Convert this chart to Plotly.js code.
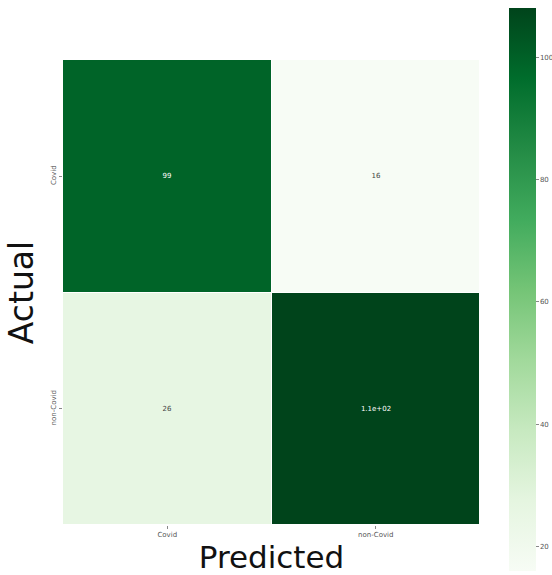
<!DOCTYPE html>
<html>
<head>
<meta charset="utf-8">
<script src="https://cdn.plot.ly/plotly-3.0.1.min.js"></script>
<style>html,body{margin:0;padding:0;background:#fff;}#chart{width:552px;height:575px;}</style>
</head>
<body>
<div id="chart"></div>
<script>
var predictedLabels = ['Covid', 'non-Covid'];
var actualLabels = ['Covid', 'non-Covid'];
var counts = [[99, 16], [26, 108]];
var cellText = [['99', '16'], ['26', '1.1e+02']];
var colorTicks = [20, 40, 60, 80, 100];

var greens = [
  [0.0, '#f7fcf5'], [0.125, '#e5f5e0'], [0.25, '#c7e9c0'], [0.375, '#a1d99b'],
  [0.5, '#74c476'], [0.625, '#41ab5d'], [0.75, '#238b45'], [0.875, '#006d2c'], [1.0, '#00441b']
];

var trace = {
  type: 'heatmap',
  x: predictedLabels,
  y: actualLabels,
  z: counts,
  text: cellText,
  texttemplate: '%{text}',
  textfont: {family: 'DejaVu Sans', size: 7},
  colorscale: greens,
  zmin: 16,
  zmax: 108,
  xgap: 1,
  ygap: 1,
  hoverinfo: 'none',
  colorbar: {
    xref: 'container', yref: 'container',
    x: 509 / 552, xanchor: 'left',
    y: 1 - 10 / 575, yanchor: 'top',
    len: 563, lenmode: 'pixels',
    thickness: 27, thicknessmode: 'pixels',
    outlinewidth: 0,
    tickvals: colorTicks,
    ticktext: colorTicks.map(String),
    ticklabeloverflow: 'allow',
    ticks: 'outside', ticklen: 3, tickcolor: '#888',
    tickfont: {family: 'DejaVu Sans', size: 7, color: '#555'},
    xpad: 0, ypad: 0
  }
};

var layout = {
  width: 552, height: 575,
  margin: {l: 63, r: 72, t: 60, b: 50},
  paper_bgcolor: '#fff', plot_bgcolor: '#fff',
  font: {family: 'DejaVu Sans', color: '#222'},
  xaxis: {
    title: {text: 'Predicted', font: {family: 'DejaVu Sans', size: 31, color: '#111'}, standoff: 8},
    tickfont: {size: 7, color: '#555'},
    ticks: 'outside', ticklen: 3, tickcolor: '#888',
    showgrid: false, zeroline: false, showline: false
  },
  yaxis: {
    title: {text: 'Actual', font: {family: 'DejaVu Sans', size: 33, color: '#111'}, standoff: 6},
    autorange: 'reversed',
    tickangle: -90,
    tickfont: {size: 7, color: '#555'},
    ticks: 'outside', ticklen: 3, tickcolor: '#888',
    showgrid: false, zeroline: false, showline: false
  }
};

Plotly.newPlot('chart', [trace], layout, {displayModeBar: false, staticPlot: true});
</script>
</body>
</html>
